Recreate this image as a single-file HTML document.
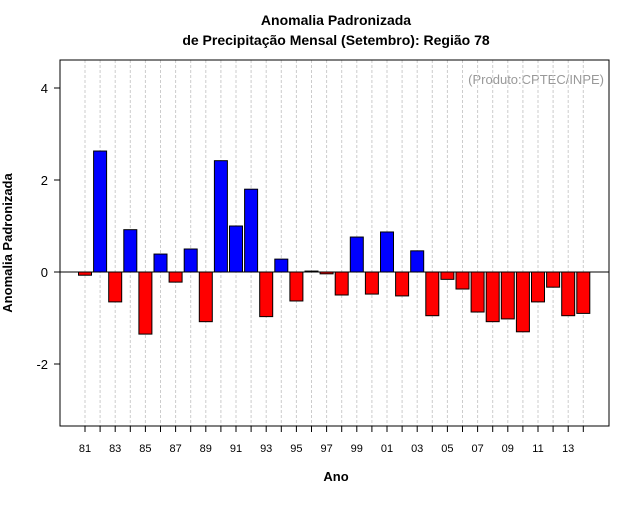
<!DOCTYPE html>
<html><head><meta charset="utf-8"><style>
body{margin:0;background:#fff;font-family:"Liberation Sans",sans-serif}
</style></head><body>
<svg id="c" width="640" height="500" xmlns="http://www.w3.org/2000/svg">
<text x="336" y="25" text-anchor="middle" font-size="14" font-weight="bold">Anomalia Padronizada</text>
<text x="336" y="45" text-anchor="middle" font-size="14" font-weight="bold">de Precipitação Mensal (Setembro): Região 78</text>
<text x="336" y="481" text-anchor="middle" font-size="13" font-weight="bold">Ano</text>
<text transform="translate(12,243) rotate(-90)" text-anchor="middle" font-size="13" font-weight="bold">Anomalia Padronizada</text>
<text x="604" y="84" text-anchor="end" font-size="13" fill="#999">(Produto:CPTEC/INPE)</text>
<g id="grid"></g><g id="bars"></g><g id="axes"></g>
<rect x="60" y="60" width="549" height="366" fill="none" stroke="#000"/>
</svg>
<script>
const years=[1981,1982,1983,1984,1985,1986,1987,1988,1989,1990,1991,1992,1993,1994,1995,1996,1997,1998,1999,2000,2001,2002,2003,2004,2005,2006,2007,2008,2009,2010,2011,2012,2013,2014];
const values=[-0.07,2.63,-0.65,0.92,-1.35,0.39,-0.22,0.5,-1.08,2.42,1.0,1.8,-0.97,0.28,-0.63,0.02,-0.04,-0.5,0.76,-0.48,0.87,-0.52,0.46,-0.95,-0.16,-0.37,-0.87,-1.08,-1.02,-1.3,-0.65,-0.33,-0.95,-0.9];
const yTicks=[-2,0,2,4];
const xTickYears=[1981,1983,1985,1987,1989,1991,1993,1995,1997,1999,2001,2003,2005,2007,2009,2011,2013];
const NS="http://www.w3.org/2000/svg";
const x=yr=>85+(yr-1981)*15.1;
const y=v=>272-v*46;
function mk(t,a,p){const e=document.createElementNS(NS,t);for(const k in a)e.setAttribute(k,a[k]);p.appendChild(e);return e;}
const G=document.getElementById('grid'),B=document.getElementById('bars'),A=document.getElementById('axes');
years.forEach(yr=>{const l=mk('line',{x1:x(yr),x2:x(yr),y1:60,y2:426,stroke:'#ccc','stroke-dasharray':'3,2'},G);


mk('line',{x1:x(yr),x2:x(yr),y1:426,y2:432,stroke:'#000'},A);});
const zl=mk('line',{x1:60,x2:609,y1:y(0),y2:y(0),stroke:'#000'},A);


years.forEach((yr,i)=>{const v=values[i];const r=mk('rect',{x:x(yr)-6.5,y:Math.min(y(v),y(0)),width:13,height:Math.abs(y(v)-y(0)),fill:v>=0?'#00f':'#f00',stroke:'#000','stroke-width':1},B);

});
yTicks.forEach(t=>{mk('line',{x1:54,x2:60,y1:y(t),y2:y(t),stroke:'#000'},A);
const tx=mk('text',{x:48,y:y(t)+5,'text-anchor':'end','font-size':13},A);tx.textContent=t;

});
xTickYears.forEach(yr=>{
const tx=mk('text',{x:x(yr),y:452,'text-anchor':'middle','font-size':11},A);tx.textContent=String(yr%100).padStart(2,'0');

});
</script>
</body></html>
